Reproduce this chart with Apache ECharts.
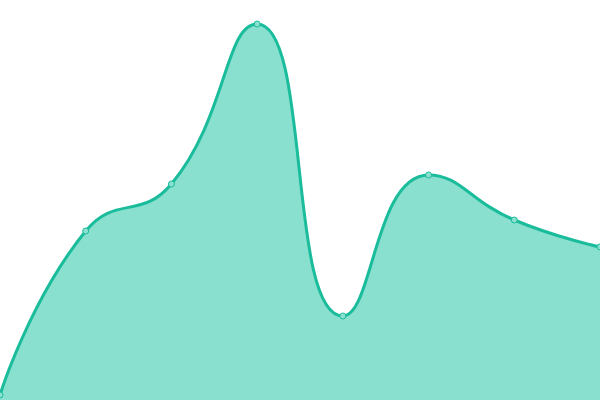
<!DOCTYPE html>
<html><head><meta charset="utf-8">
<script src="https://cdn.jsdelivr.net/npm/echarts@6/dist/echarts.min.js"></script>
<style>html,body{margin:0;padding:0;background:#fff}#c{width:600px;height:400px}</style>
</head><body><div id="c"></div>
<script>
const categories = ['A','B','C','D','E','F','G','H'];
const values = [5, 169, 216, 376, 84, 225, 180, 153];
const chart = echarts.init(document.getElementById('c'));
chart.setOption({
  animation: false,
  grid: {left: 0, right: 0, top: 0, bottom: 0},
  xAxis: {type: 'category', data: categories, boundaryGap: false, show: false},
  yAxis: {type: 'value', min: 0, max: 400, show: false},
  series: [{
    type: 'line',
    data: values,
    smooth: true,
    symbol: 'circle',
    symbolSize: 6,
    lineStyle: {color: '#1abc9c', width: 3},
    itemStyle: {color: '#8ce0cf', borderColor: '#1abc9c', borderWidth: 1},
    areaStyle: {color: '#8ae0cf', opacity: 1}
  }]
});
</script></body></html>
